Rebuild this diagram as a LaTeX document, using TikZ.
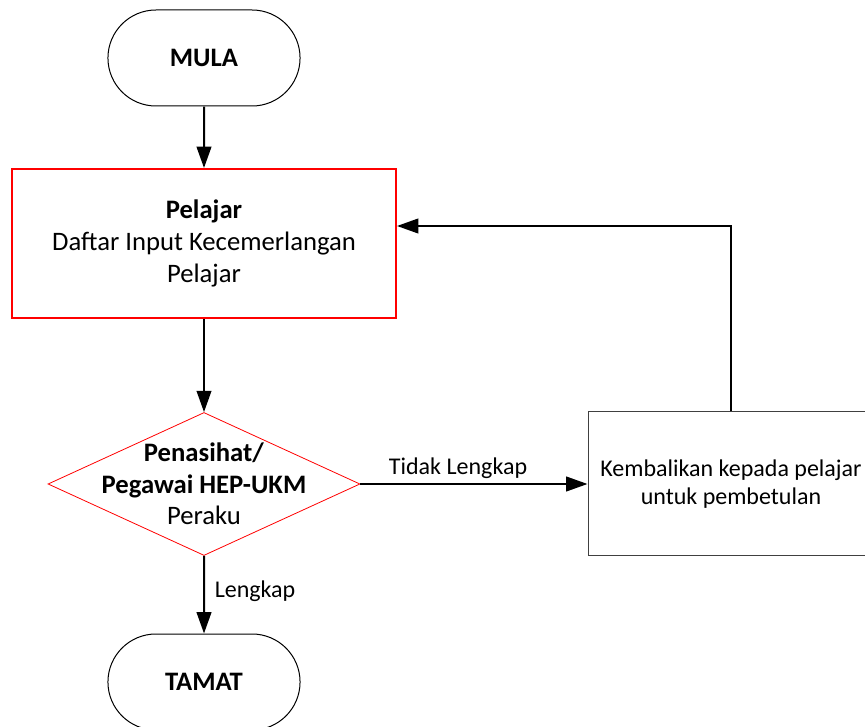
\documentclass[tikz,border=0pt]{standalone}
\usepackage{fontspec}
\setmainfont{Carlito}
\usetikzlibrary{arrows.meta,shapes.geometric,shapes.misc,calc}

\begin{document}
\begin{tikzpicture}[x=0.75pt,y=-0.75pt,->,>={Triangle[length=16pt,width=11pt]},line width=1.5pt,
  terminal/.style={shape=rounded rectangle,draw=black,line width=0.75pt,minimum width=150.75pt,minimum height=72pt,font=\fontsize{20}{24}\selectfont\bfseries},
  process/.style={shape=rectangle,draw=red,line width=1.5pt,minimum width=288pt,minimum height=111.75pt,align=center,font=\fontsize{20}{24}\selectfont},
  decision/.style={shape=diamond,draw=red,line width=0.6pt,minimum width=234pt,minimum height=107.25pt,inner sep=0pt},
  returnbox/.style={shape=rectangle,draw=black!75,line width=0.75pt,minimum width=214.5pt,minimum height=108pt,align=center,font=\fontsize{18}{21}\selectfont},
  lbl/.style={font=\fontsize{18}{21}\selectfont}]
\useasboundingbox (0,0) rectangle (865,727);
\node[terminal] (1) at (204,58) {MULA};
\node[process] (2) at (204,243.5) {\textbf{Pelajar}\\Daftar Input Kecemerlangan\\Pelajar};
\node[decision] (3) at (204,484) {};
\node[align=center,font=\fontsize{20}{23.5}\selectfont] (3a) at (3) {\textbf{Penasihat/}\\\textbf{Pegawai HEP-UKM}\\Peraku};
\node[returnbox] (4) at (731,484) {Kembalikan kepada pelajar\\untuk pembetulan};
\node[terminal] (5) at (204,682) {TAMAT};
\path (1) edge (2);
\path (2) edge (3);
\path (3) edge node[lbl, above, pos = 0.43] {Tidak Lengkap} (4);
\path (3) edge node[lbl, right, pos = 0.45, xshift = 4pt] {Lengkap} (5);
\draw (4.north) |- ($(2.east)+(0,-17.5)$);
\end{tikzpicture}
\end{document}
